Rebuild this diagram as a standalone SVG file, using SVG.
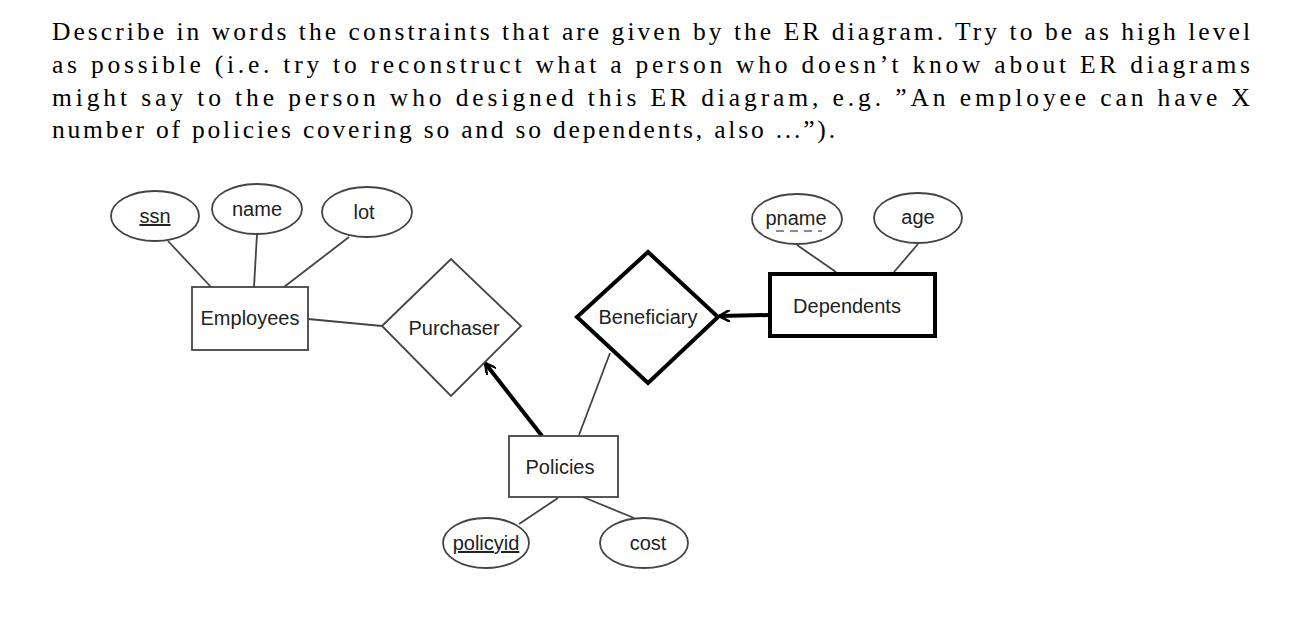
<svg xmlns="http://www.w3.org/2000/svg" width="1300" height="620" viewBox="0 0 1300 620">
<style>
.p{font-family:"Liberation Serif","DejaVu Serif",serif;font-size:25.5px;fill:#000}
.t{font-family:"Liberation Sans",Arial,sans-serif;font-size:20px;fill:#222;text-anchor:middle}
.s{fill:#fff;stroke:#444;stroke-width:1.8}
.k{fill:#fff;stroke:#000;stroke-width:4}
.l{stroke:#444;stroke-width:1.8;fill:none}
</style>
<defs><marker id="a" viewBox="0 0 12 12" refX="11" refY="6" markerWidth="12" markerHeight="12" markerUnits="userSpaceOnUse" orient="auto"><path d="M0,0 L11,6 L0,12" fill="none" stroke="#000" stroke-width="2.5"/></marker></defs>
<rect width="1300" height="620" fill="#fff"/>
<g id="text">
<text class="p" x="52" y="40" textLength="1198" lengthAdjust="spacing">Describe in words the constraints that are given by the ER diagram. Try to be as high level</text>
<text class="p" x="52" y="73" textLength="1198" lengthAdjust="spacing">as possible (i.e. try to reconstruct what a person who doesn’t know about ER diagrams</text>
<text class="p" x="52" y="106" textLength="1198" lengthAdjust="spacing">might say to the person who designed this ER diagram, e.g. ”An employee can have X</text>
<text class="p" x="52" y="138" textLength="783" lengthAdjust="spacing">number of policies covering so and so dependents, also ...”).</text>
</g>
<g id="connectors">
<line class="l" x1="168" y1="241" x2="211" y2="287"/>
<line class="l" x1="257" y1="234" x2="254" y2="287"/>
<line class="l" x1="349" y1="237" x2="284" y2="287"/>
<line class="l" x1="308" y1="319" x2="382" y2="326"/>
<line class="l" x1="797" y1="245" x2="836" y2="272"/>
<line class="l" x1="918" y1="244" x2="894" y2="272"/>
<line class="l" x1="579" y1="435" x2="610" y2="353"/>
<line class="l" x1="558" y1="498" x2="519" y2="524"/>
<line class="l" x1="583" y1="497" x2="634" y2="518"/>
<line x1="542" y1="436" x2="485" y2="363" stroke="#000" stroke-width="4" marker-end="url(#a)"/>
<line x1="770" y1="315" x2="719" y2="316" stroke="#000" stroke-width="4" marker-end="url(#a)"/>
</g>
<g id="ssn"><ellipse class="s" cx="155" cy="216" rx="44" ry="25"/><text class="t" x="155" y="223" text-decoration="underline">ssn</text></g>
<g id="name"><ellipse class="s" cx="257" cy="209" rx="45" ry="25"/><text class="t" x="257" y="216">name</text></g>
<g id="lot"><ellipse class="s" cx="367" cy="212" rx="45" ry="25"/><text class="t" x="364" y="219">lot</text></g>
<g id="employees"><rect class="s" x="192" y="287" width="116" height="63"/><text class="t" x="250" y="325">Employees</text></g>
<g id="purchaser"><polygon class="s" points="382,326 451,259 521,326 451,396"/><text class="t" x="454" y="335">Purchaser</text></g>
<g id="beneficiary"><polygon class="k" points="577,317 648,252 718,317 648,383"/><text class="t" x="648" y="324">Beneficiary</text></g>
<g id="dependents"><rect class="k" x="770" y="274" width="165" height="62"/><text class="t" x="847" y="313">Dependents</text></g>
<g id="pname"><ellipse class="s" cx="797" cy="219" rx="45" ry="25"/><text class="t" x="796" y="225">pname</text><line x1="776" y1="231" x2="822" y2="231" stroke="#666" stroke-width="1.5" stroke-dasharray="8,6"/></g>
<g id="age"><ellipse class="s" cx="918" cy="218" rx="44" ry="25"/><text class="t" x="918" y="224">age</text></g>
<g id="policies"><rect class="s" x="509" y="436" width="109" height="61"/><text class="t" x="560" y="474">Policies</text></g>
<g id="policyid"><ellipse class="s" cx="486" cy="543" rx="43" ry="25"/><text class="t" x="486" y="550" text-decoration="underline">policyid</text></g>
<g id="cost"><ellipse class="s" cx="644" cy="543" rx="44" ry="25"/><text class="t" x="648" y="550">cost</text></g>
</svg>
